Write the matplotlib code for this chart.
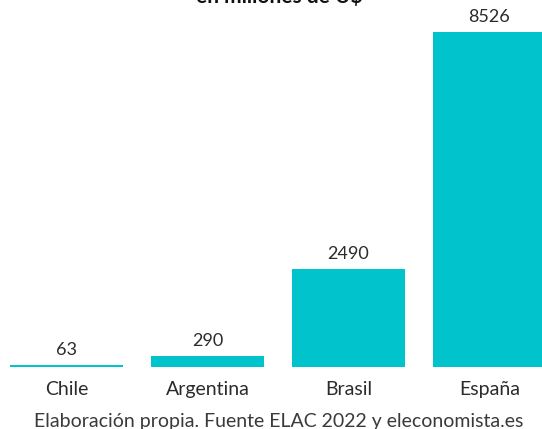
import matplotlib
matplotlib.use("Agg")
import matplotlib.pyplot as plt

plt.rcParams["font.family"] = ["Lato", "DejaVu Sans"]

countries = ["Chile", "Argentina", "Brasil", "España"]
values = [63, 290, 2490, 8526]
title = "en millones de U$"
source = "Elaboración propia. Fuente ELAC 2022 y eleconomista.es"

BAR = "#00c3cc"
TXT = "#2b2b2b"

fig = plt.figure(figsize=(5.42, 4.29), dpi=100)
ax = fig.add_axes([0, 62 / 429, 1, 367 / 429])

x = range(len(countries))
bars = ax.bar(x, values, width=0.80, color=BAR)
for b, v in zip(bars, values):
    ax.annotate(f"{v}", (b.get_x() + b.get_width() / 2, v),
                xytext=(0, 5), textcoords="offset points",
                ha="center", va="bottom", fontsize=13, color=TXT)

ax.set_xlim(-66.5 / 141, -66.5 / 141 + 542 / 141)
ax.set_ylim(0, 9341)
ax.set_xticks(list(x))
ax.set_xticklabels(countries, fontsize=14, color=TXT)
ax.tick_params(axis="x", length=0, pad=10)
ax.set_yticks([])
for s in ax.spines.values():
    s.set_visible(False)

fig.text(0.515, (429 - 3) / 429, title, ha="center", va="baseline",
         fontsize=15, fontweight="bold", color="#111111")
fig.text(0.515, -1 / 429, source, ha="center", va="bottom",
         fontsize=14, color="#3a3a3a")

fig.savefig("out.png", dpi=100)
